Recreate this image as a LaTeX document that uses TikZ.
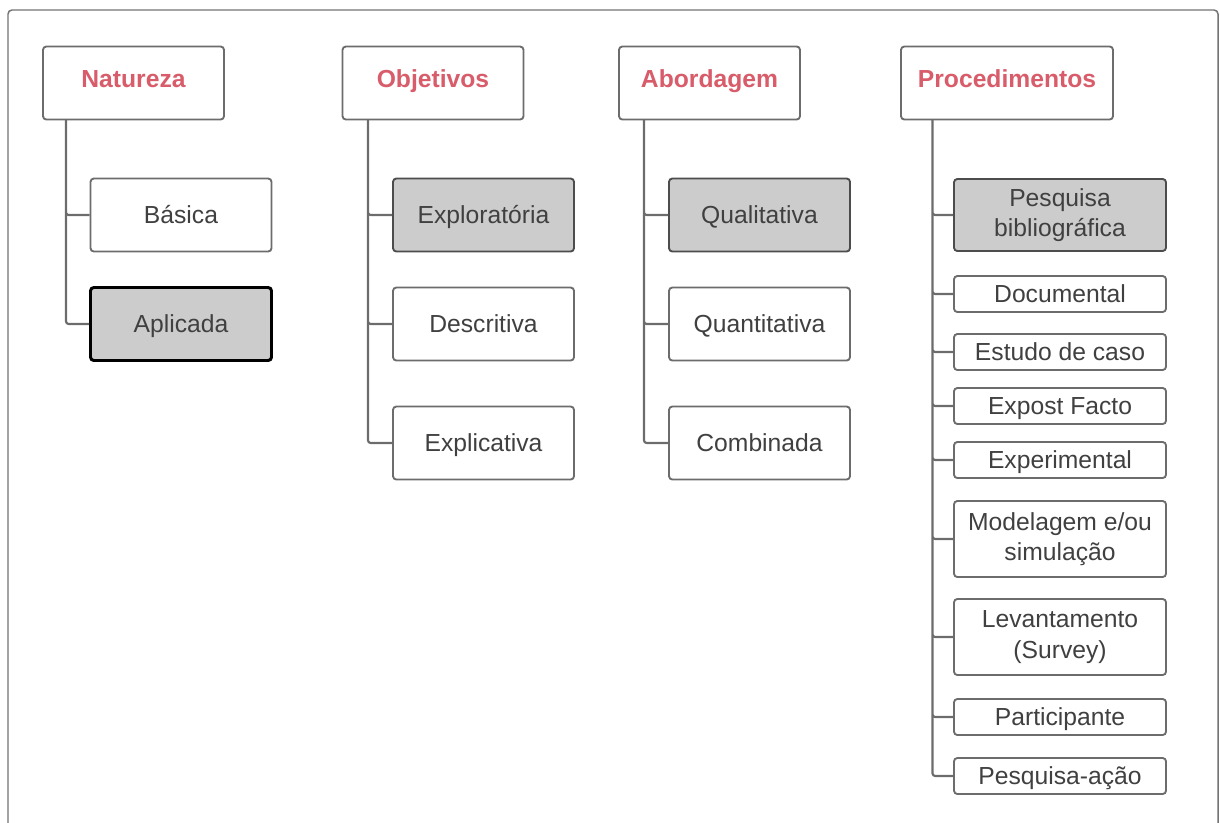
\documentclass[tikz,border=0pt]{standalone}
\usepackage{fontspec}
\setmainfont{Liberation Sans}
\usepackage{xcolor}

\definecolor{hdred}{RGB}{216,92,106}
\definecolor{txtgray}{RGB}{64,64,64}
\definecolor{linegray}{RGB}{108,108,108}
\definecolor{boxgray}{RGB}{204,204,204}

\tikzset{
  box/.style={draw=linegray, line width=1.4pt, rounded corners=2.5pt, fill=white,
    text=txtgray, align=center, inner sep=0pt,
    font=\fontsize{18.5}{23}\selectfont},
  one/.style={text height=15pt, text depth=3pt},
  hd/.style={box, text height=12.2pt, text depth=4.8pt, minimum width=135.75pt, minimum height=54.75pt, text=hdred, font=\fontsize{18.5}{23}\selectfont\bfseries},
  hdw/.style={hd, minimum width=159pt},
  item/.style={box, one, minimum width=135.75pt, minimum height=54.75pt},
  pitem/.style={box, one, minimum width=159pt, minimum height=27pt},
  ptall/.style={box, minimum width=159pt, minimum height=57pt},
  sel/.style={fill=boxgray, draw=black!70},
  selx/.style={fill=boxgray, draw=black, line width=2.2pt},
  link/.style={draw=linegray, line width=1.6pt, rounded corners=2pt}
}

\begin{document}
\begin{tikzpicture}[x=0.75pt,y=-0.75pt]
  \useasboundingbox (0,0) rectangle (1220,822);
  \begin{scope}
    \clip (0,0) rectangle (1220,822);
    \draw[draw=black!55, line width=1.1pt, rounded corners=3pt] (8,10) rectangle (1218,850);
  \end{scope}

  % headers
  \node (nat) at (133.5,83) [hd] {Natureza};
  \node (obj) at (433,83) [hd] {Objetivos};
  \node (abo) at (709.5,83) [hd] {Abordagem};
  \node (pro) at (1007,83) [hdw] {Procedimentos};

  % trunks
  \coordinate (natT) at (66,119);
  \coordinate (objT) at (368,119);
  \coordinate (aboT) at (644,119);
  \coordinate (proT) at (932.5,119);

  % Natureza
  \node (bas) at (181,215) [item] {Básica};
  \node (apl) at (181,324) [item,selx] {Aplicada};

  % Objetivos
  \node (exl) at (483.5,215) [item,sel] {Exploratória};
  \node (des) at (483.5,324) [item] {Descritiva};
  \node (exc) at (483.5,443) [item] {Explicativa};

  % Abordagem
  \node (qual) at (759.5,215) [item,sel] {Qualitativa};
  \node (quan) at (759.5,324) [item] {Quantitativa};
  \node (com) at (759.5,443) [item] {Combinada};

  % Procedimentos
  \node (bib) at (1060,215) [ptall,sel,minimum height=54pt] {Pesquisa\\bibliográfica};
  \node (doc) at (1060,294) [pitem] {Documental};
  \node (est) at (1060,352) [pitem] {Estudo de caso};
  \node (epf) at (1060,406) [pitem] {Expost Facto};
  \node (exp) at (1060,460) [pitem] {Experimental};
  \node (mod) at (1060,539) [ptall] {Modelagem e/ou\\simulação};
  \node (lev) at (1060,637) [ptall] {Levantamento\\(Survey)};
  \node (par) at (1060,717) [pitem] {Participante};
  \node (pac) at (1060,776) [pitem] {Pesquisa-ação};

  \draw[link] (natT) |- (bas.west) (natT) |- (apl.west);
  \draw[link] (objT) |- (exl.west) (objT) |- (des.west) (objT) |- (exc.west);
  \draw[link] (aboT) |- (qual.west) (aboT) |- (quan.west) (aboT) |- (com.west);
  \draw[link] (proT) |- (bib.west) (proT) |- (doc.west) (proT) |- (est.west)
    (proT) |- (epf.west) (proT) |- (exp.west) (proT) |- (mod.west)
    (proT) |- (lev.west) (proT) |- (par.west) (proT) |- (pac.west);
\end{tikzpicture}
\end{document}
